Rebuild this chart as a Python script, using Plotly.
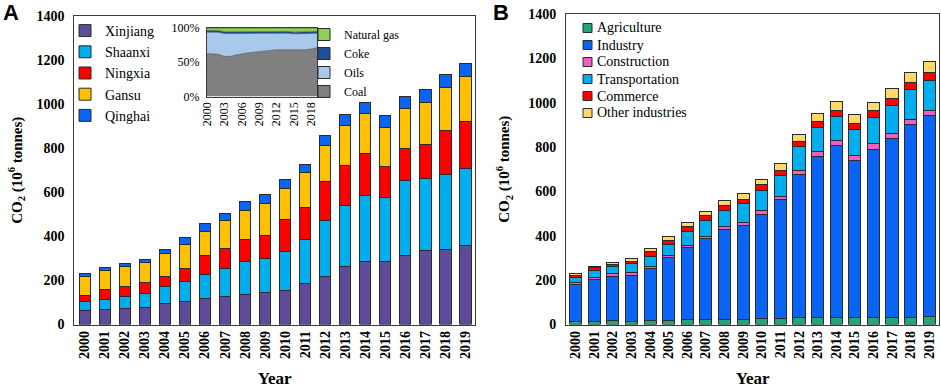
import plotly.graph_objects as go

years = [str(y) for y in range(2000, 2020)]
inset_years = list(range(2000, 2020))

# Panel A: CO2 by province (10^6 tonnes)
xinjiang = [65, 68, 71, 79, 94, 105, 117, 127, 136, 147, 155, 185, 220, 264, 288, 285, 315, 335, 341, 358]
shaanxi = [41, 46, 58, 60, 80, 89, 112, 126, 149, 152, 178, 201, 254, 278, 298, 291, 338, 327, 339, 352]
ningxia = [27, 45, 45, 50, 46, 58, 82, 91, 100, 107, 143, 146, 173, 181, 191, 141, 144, 155, 200, 211]
gansu = [84, 88, 88, 91, 103, 112, 113, 126, 133, 141, 142, 156, 167, 178, 181, 177, 183, 191, 197, 205]
qinghai = [13, 11, 15, 15, 19, 30, 35, 36, 40, 42, 38, 38, 45, 50, 50, 53, 55, 57, 58, 59]

# Inset: fuel shares (%)
coal = [62, 62, 61, 58, 58, 60, 62, 63, 64, 65, 66, 66, 68, 68, 68, 67, 67, 68, 69, 71]
oils = [31, 31, 32, 33, 33, 32, 30, 29, 28, 27, 27, 26, 24, 24, 24, 24, 24, 23, 22, 21]
coke = [2.5, 2.5, 2.5, 2.5, 2.5, 2.5, 2.5, 2.5, 2.5, 2.5, 2.5, 2.5, 2.5, 2.5, 2.5, 2.5, 2.5, 2.5, 2.5, 2.5]
natural_gas = [3.5, 3.5, 3.5, 5.5, 5.5, 4.5, 4.5, 4.5, 4.5, 4.5, 4.5, 4.5, 5.0, 5.0, 5.0, 6.0, 6.0, 6.0, 6.0, 5.0]
inset_ticks = [0, 50, 100]
inset_tick_labels = ["0%", "50%", "100%"]

# Panel B: CO2 by sector (10^6 tonnes)
agriculture = [15, 15, 16, 15, 17, 19, 21, 21, 24, 24, 26, 28, 30, 30, 30, 31, 31, 32, 33, 34]
industry = [165, 187, 200, 206, 234, 282, 326, 367, 403, 424, 472, 537, 646, 728, 779, 707, 758, 805, 868, 909]
construction = [10, 11, 14, 12, 9, 10, 10, 9, 13, 12, 15, 13, 18, 20, 19, 22, 26, 25, 23, 24]
transportation = [23, 30, 30, 42, 46, 48, 62, 71, 76, 85, 93, 94, 109, 110, 111, 120, 120, 126, 134, 135]
commerce = [9, 12, 11, 11, 21, 21, 23, 22, 20, 18, 24, 22, 21, 26, 28, 27, 29, 32, 32, 36]
other_industries = [6, 5, 7, 11, 15, 15, 18, 18, 24, 26, 25, 32, 33, 38, 39, 39, 39, 44, 46, 47]

W, H = 941, 388
def px_x(p):
    return p / W
def px_y(p):
    return (H - p) / H

SERIF = "Liberation Serif, Times New Roman, serif"
OUTLINE = dict(color="#2b2b2b", width=1)

fig = go.Figure()

provinces = [
    ("Xinjiang", xinjiang, "#5E4C9B"),
    ("Shaanxi", shaanxi, "#00AEEF"),
    ("Ningxia", ningxia, "#FF0000"),
    ("Gansu", gansu, "#FFC000"),
    ("Qinghai", qinghai, "#0A64F5"),
]
for name, vals, col in provinces:
    fig.add_trace(go.Bar(x=years, y=vals, name=name, marker=dict(color=col, line=OUTLINE),
                         width=0.57, xaxis="x", yaxis="y", legend="legend"))

fuels = [
    ("Coal", coal, "#808080"),
    ("Oils", oils, "#A9C9EA"),
    ("Coke", coke, "#1F4E9A"),
    ("Natural gas", natural_gas, "#8FD14F"),
]
for name, vals, col in fuels:
    fig.add_trace(go.Scatter(x=inset_years, y=vals, name=name, stackgroup="one", groupnorm="percent",
                             mode="lines", line=dict(width=0.5, color="#333333"), fillcolor=col,
                             xaxis="x3", yaxis="y3", showlegend=False))
# square legend keys for the inset (no data drawn)
for name, vals, col in fuels:
    fig.add_trace(go.Bar(x=[None], y=[None], name=name, marker=dict(color=col, line=OUTLINE),
                         xaxis="x3", yaxis="y3", legend="legend3", hoverinfo="skip"))

sectors = [
    ("Agriculture", agriculture, "#1FA774"),
    ("Industry", industry, "#0A64F5"),
    ("Construction", construction, "#F05FC0"),
    ("Transportation", transportation, "#00AEEF"),
    ("Commerce", commerce, "#FF0000"),
    ("Other industries", other_industries, "#FFD966"),
]
for name, vals, col in sectors:
    fig.add_trace(go.Bar(x=years, y=vals, name=name, marker=dict(color=col, line=OUTLINE),
                         width=0.65, xaxis="x2", yaxis="y2", showlegend=False))

# compact legend for panel B (row spacing tighter than plotly's legend allows)
shapes = []
annotations = []
for i, (name, vals, col) in enumerate(sectors):
    yc = 28 + 17 * i
    shapes.append(dict(type="rect", xref="paper", yref="paper",
                       x0=px_x(583), x1=px_x(592), y0=px_y(yc + 4.5), y1=px_y(yc - 4.5),
                       fillcolor=col, line=dict(color="#2b2b2b", width=1)))
    annotations.append(dict(text=name, x=px_x(595), y=px_y(yc), xref="paper", yref="paper",
                            xanchor="left", yanchor="middle", showarrow=False,
                            font=dict(family=SERIF, size=14, color="black")))

annotations += [
    dict(text="<b>A</b>", x=px_x(1), y=px_y(13), xref="paper", yref="paper", xanchor="left",
         yanchor="middle", showarrow=False, font=dict(family="Liberation Sans, Arial, sans-serif", size=22, color="black")),
    dict(text="<b>B</b>", x=px_x(491), y=px_y(13), xref="paper", yref="paper", xanchor="left",
         yanchor="middle", showarrow=False, font=dict(family="Liberation Sans, Arial, sans-serif", size=22, color="black")),
]

axis_common = dict(showline=True, linecolor="#3a3a3a", linewidth=1, mirror=True,
                   showgrid=False, zeroline=False, ticks="", automargin=False)
def ytitle(standoff):
    return dict(text="CO<sub>2</sub> (10<sup>6</sup> tonnes)",
                font=dict(family=SERIF, size=15, color="black", weight="bold"), standoff=standoff)
xtitle = dict(text="Year", font=dict(family=SERIF, size=17, color="black", weight="bold"), standoff=18)
tickfont = dict(family=SERIF, size=14, color="black", weight="bold")

fig.update_layout(
    width=W, height=H,
    margin=dict(l=0, r=0, t=0, b=0, autoexpand=False),
    paper_bgcolor="white", plot_bgcolor="white",
    barmode="stack",
    font=dict(family=SERIF, color="black"),
    xaxis=dict(domain=[px_x(74.3), px_x(475)], type="category", range=[-0.52, 19.48],
               tickangle=-90, tickfont=tickfont, title=xtitle, anchor="y", **axis_common),
    yaxis=dict(domain=[px_y(324.5), px_y(16)], range=[0, 1400], dtick=200,
               tickfont=tickfont, title=ytitle(10), anchor="x", ticklabelstandoff=6, **axis_common),
    xaxis2=dict(domain=[px_x(566), px_x(939.3)], type="category", range=[-0.52, 19.54],
                tickangle=-90, tickfont=tickfont, title=xtitle, anchor="y2", **axis_common),
    yaxis2=dict(domain=[px_y(324.5), px_y(14)], range=[0, 1400], dtick=200,
                tickfont=tickfont, title=ytitle(14), anchor="x2", ticklabelstandoff=6, **axis_common),
    xaxis3=dict(domain=[px_x(207), px_x(317)], range=[2000, 2019], tickvals=list(range(2000, 2019, 3)),
                tickangle=-90, tickfont=dict(family=SERIF, size=12, color="black"), anchor="y3",
                **axis_common),
    yaxis3=dict(domain=[px_y(96.5), px_y(28)], range=[0, 100], tickvals=inset_ticks, ticktext=inset_tick_labels,
                tickfont=dict(family=SERIF, size=12, color="black"), anchor="x3", ticklabelstandoff=4,
                **axis_common),
    legend=dict(x=px_x(65), y=px_y(15), xanchor="left", yanchor="top", bgcolor="rgba(0,0,0,0)",
                font=dict(family=SERIF, size=14, color="black"), traceorder="normal"),
    legend3=dict(x=px_x(304), y=px_y(20), xanchor="left", yanchor="top", bgcolor="rgba(0,0,0,0)",
                 font=dict(family=SERIF, size=12, color="black"), traceorder="reversed"),
    shapes=shapes,
    annotations=annotations,
)

fig.write_html("out.html", config={"displayModeBar": False},
               post_script="document.body.style.margin='0';document.body.style.padding='0';")
